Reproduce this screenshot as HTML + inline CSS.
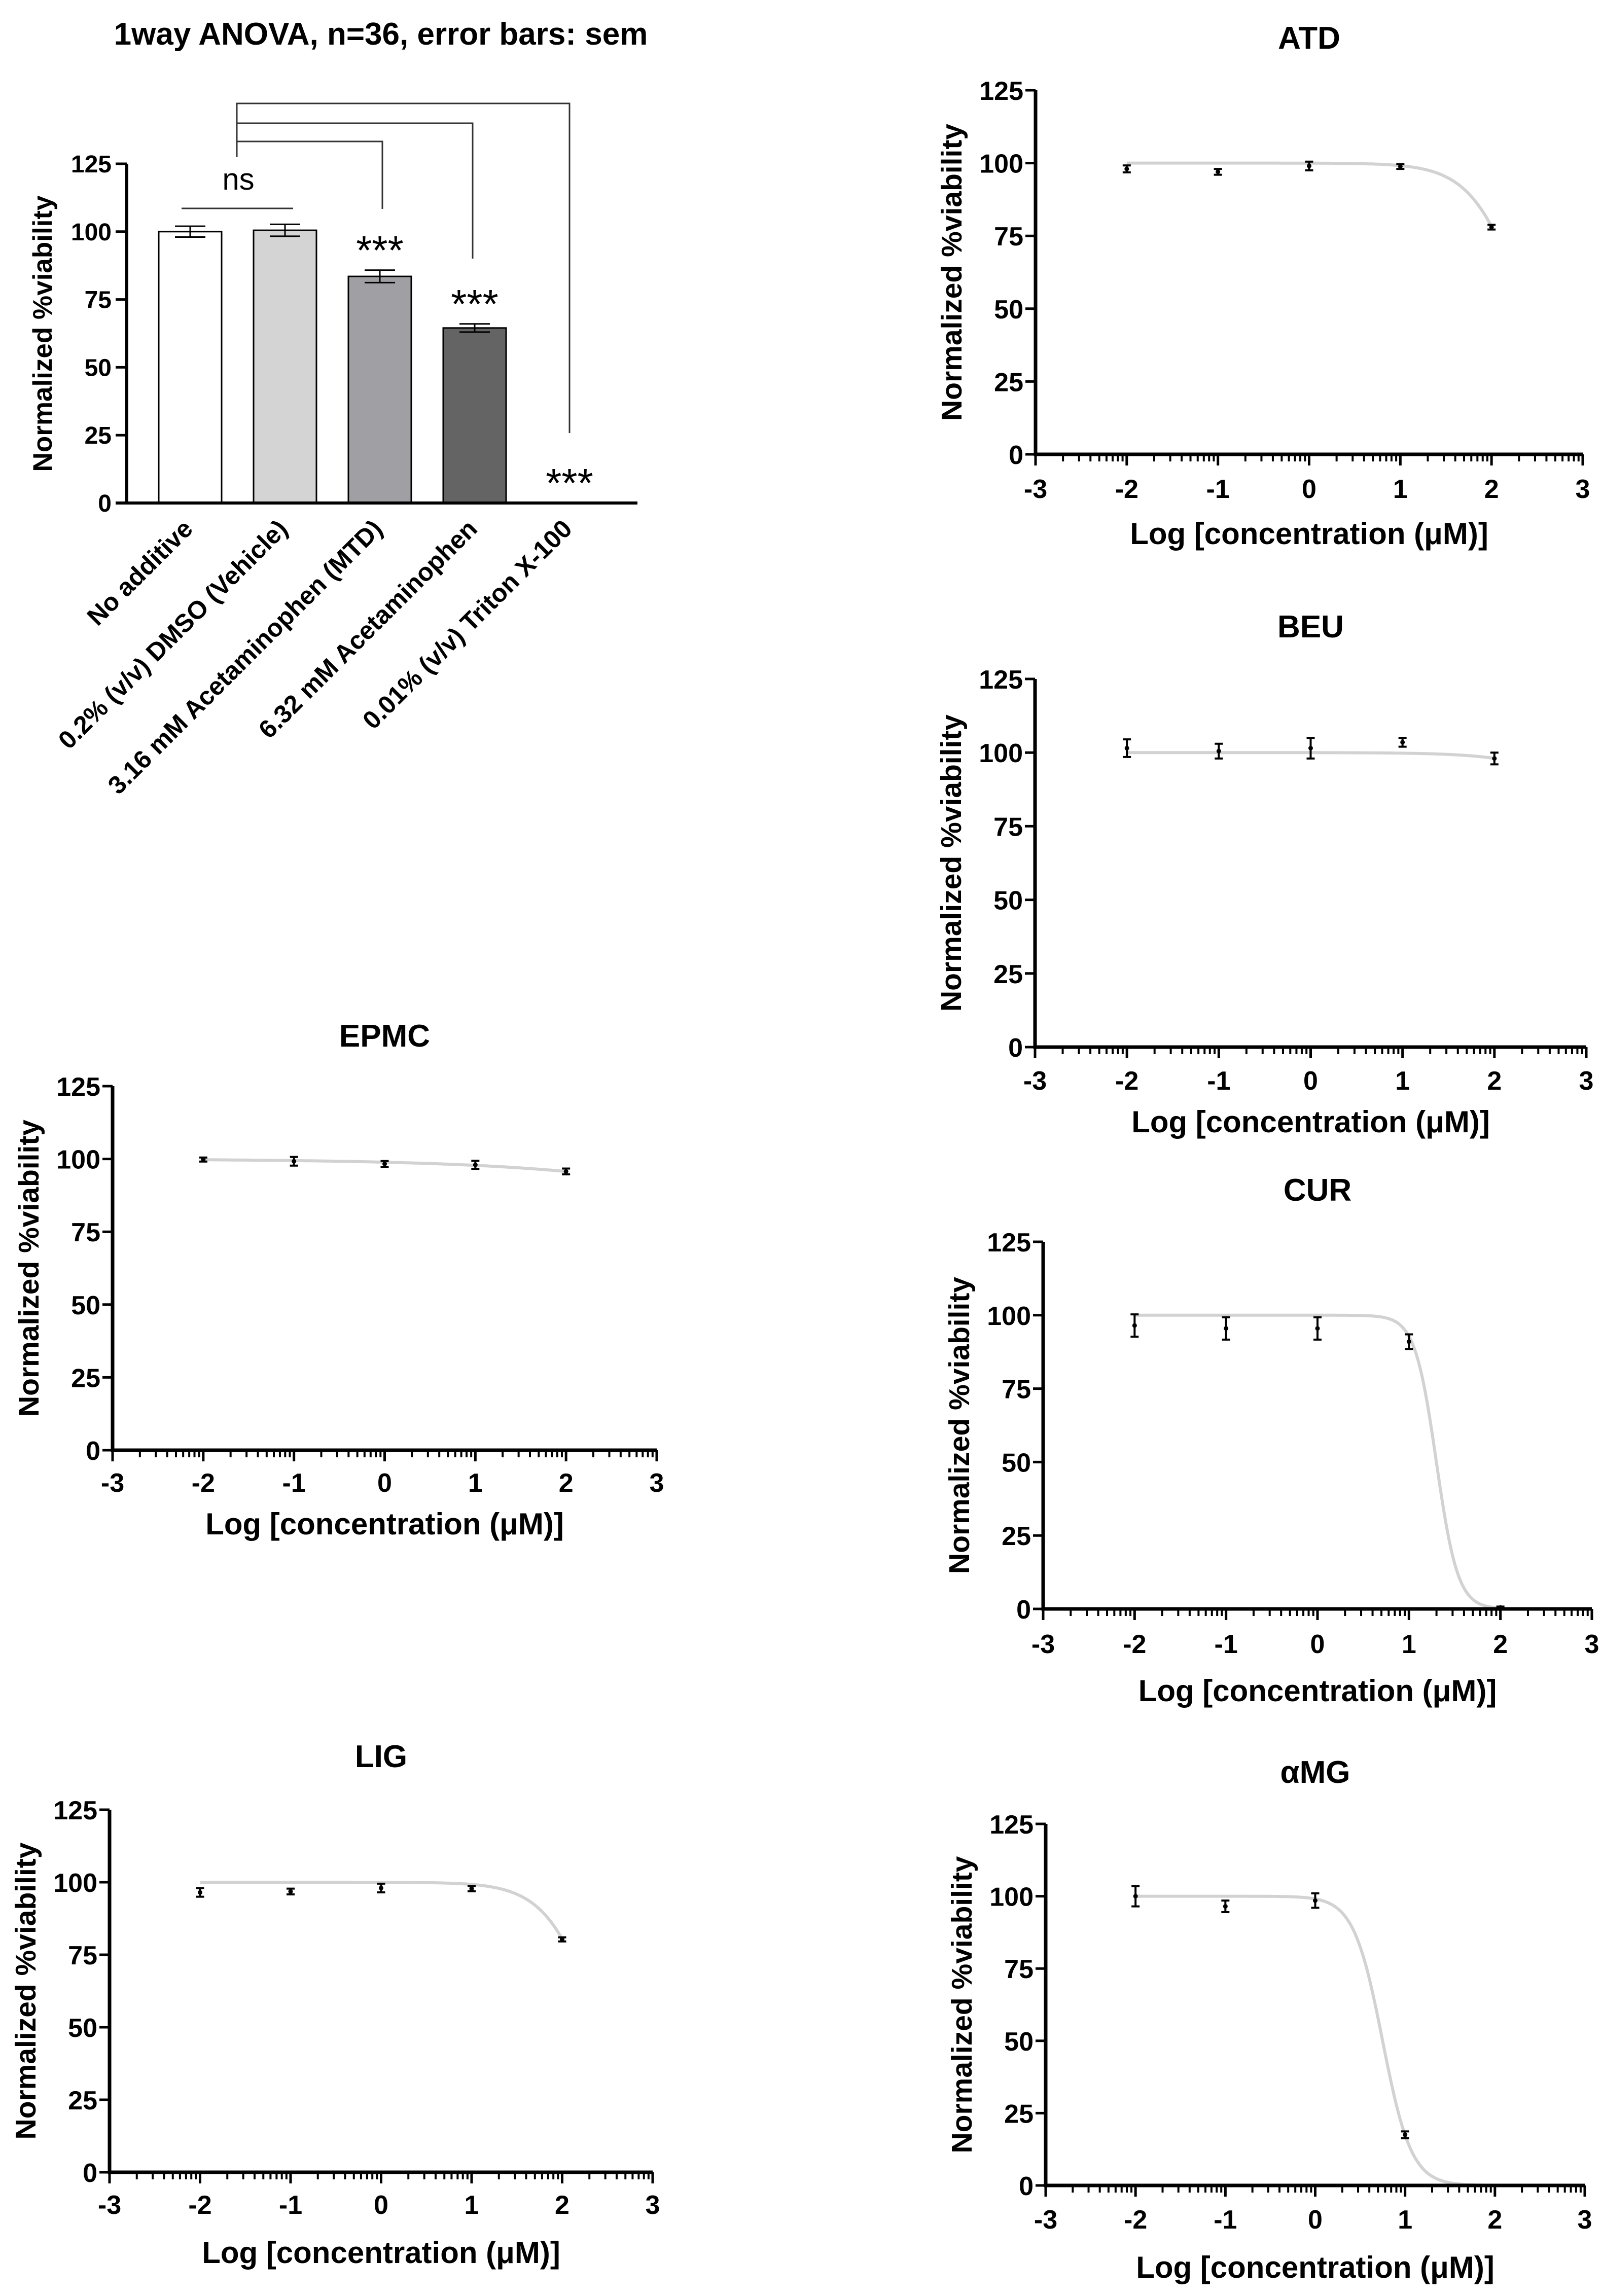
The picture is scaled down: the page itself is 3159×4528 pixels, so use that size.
<!DOCTYPE html>
<html><head><meta charset="utf-8"><style>
html,body{margin:0;padding:0;background:#fff}
svg{display:block}
text{font-family:"Liberation Sans",Arial,sans-serif;fill:#000}
</style></head><body>
<svg id="fig" xmlns="http://www.w3.org/2000/svg" width="3159" height="4528" viewBox="0 0 3159 4528">
<rect width="3159" height="4528" fill="#fff"/>
</svg>
<script>
// ---- bar chart data ----
const barCategories = ["No additive","0.2% (v/v) DMSO (Vehicle)","3.16 mM Acetaminophen (MTD)","6.32 mM Acetaminophen","0.01% (v/v) Triton X-100"];
const barValues = [100, 100.5, 83.5, 64.5, 0];
const barErrors = [2, 2.2, 2.3, 1.5, 0];
const barSig = ["", "", "***", "***", "***"];
const yTicks = [0, 25, 50, 75, 100, 125];
const xTicks = [-3, -2, -1, 0, 1, 2, 3];

// ---- dose-response data ----
const panelNames = ["ATD","BEU","CUR","αMG","EPMC","LIG"];
const doseX = [-2, -1, 0, 1, 2];
const atdY = [98, 97, 99, 98.8, 78];
const atdErr = [1.2, 1.0, 1.5, 0.8, 0.8];
const beuY = [101.5, 100.5, 101.5, 103.5, 98];
const beuErr = [3, 2.5, 3.5, 1.5, 2];
const curY = [96.5, 95.5, 95.5, 91, 0.5];
const curErr = [3.8, 3.8, 3.8, 2.5, 0.3];
const amgY = [100, 96.5, 98.5, 17.5, null];
const amgErr = [3.5, 2.0, 2.5, 1.2, 0];
const epmcY = [99.8, 99.2, 98.3, 98, 95.7];
const epmcErr = [0.7, 1.5, 1.0, 1.4, 1.0];
const ligY = [96.5, 96.8, 98, 97.8, 80.3];
const ligErr = [1.5, 1.0, 1.5, 0.9, 0.7];
// fitted curve parameters: top, logIC50, hill
const fitTop = [100, 100, 100, 100, 100, 100];
const fitLogIC50 = [2.37, 3.7, 1.3, 0.75, 6.49, 2.41];
const fitHill = [1.5, 1, 3.7, 2.7, 0.3, 1.5];

const NS = "http://www.w3.org/2000/svg";
const svg = document.getElementById("fig");
function mk(tag, attrs, parent) {
  const e = document.createElementNS(NS, tag);
  for (const k in attrs) e.setAttribute(k, attrs[k]);
  (parent || svg).appendChild(e);
  return e;
}
function txt(s, attrs, parent) { const t = mk("text", attrs, parent); t.textContent = s; return t; }

// ================= BAR CHART =================
(function(){
  const g = mk("g", {});
  
  
  const ax = 250, y0 = 992, y125 = 323, xEnd = 1257;
  const ys = v => y0 + (y125 - y0) * v / 125;
  const xc = i => 375 + i * 187;
  const bw = 124;
  const colors = ["#ffffff", "#d4d4d4", "#a0a0a4", "#646464", "#ffffff"];
  const t = txt("1way ANOVA, n=36, error bars: sem", {x:751, y:88, "font-size":62, "font-weight":"bold", "text-anchor":"middle"}, g);
  
  
  barValues.forEach((v, i) => {
    if (v > 0) {
      const r = mk("rect", {x:xc(i)-bw/2, y:ys(v), width:bw, height:y0-ys(v), fill:colors[i], stroke:"#000", "stroke-width":3}, g);
      
      
      const e = barErrors[i];
      const eb = mk("path", {d:`M${xc(i)} ${ys(v+e)} V${ys(v-e)} M${xc(i)-30} ${ys(v+e)} H${xc(i)+30} M${xc(i)-30} ${ys(v-e)} H${xc(i)+30}`, stroke:"#000", "stroke-width":3, fill:"none"}, g);
      
      
    }
    if (barSig[i]) {
      const s = txt(barSig[i], {x:xc(i), y:ys(v + barErrors[i]) - 12, "font-size":80, "text-anchor":"middle"}, g);
      
      
    }
    const lb = txt(barCategories[i], {x:0, y:0, "font-size":50, "font-weight":"bold", "text-anchor":"end", transform:`translate(${xc(i)+8},${1046}) rotate(-45)`}, g);
    
    
  });
  const axp = mk("path", {d:`M${ax} ${y125} V${y0} M${ax-22} ${y0} H${xEnd}`, stroke:"#000", "stroke-width":6, fill:"none"}, g);
  
  
  yTicks.forEach(v => {
    mk("line", {x1:ax-22, x2:ax, y1:ys(v), y2:ys(v), stroke:"#000", "stroke-width":5}, g);
    const tl = txt(String(v), {x:ax-30, y:ys(v)+17, "font-size":48, "font-weight":"bold", "text-anchor":"end"}, g);
    
    
  });
  const yl = txt("Normalized %viability", {x:0, y:0, "font-size":53, "font-weight":"bold", "text-anchor":"middle", transform:`translate(102,658) rotate(-90)`}, g);
  
  
  const br = mk("path", {d:`M467 310 V204 H1123 V854 M467 243 H932 V510 M467 279 H754 V412 M358 411 H578`, stroke:"#333", "stroke-width":3, fill:"none"}, g);
  
  
  const ns = txt("ns", {x:470, y:374, "font-size":60, "text-anchor":"middle"}, g);
  
  
})();

// ================= DOSE-RESPONSE PANELS =================
const layouts = [
  {ax:2042, y0:896, y125:178, x3:3121, title:74, tick:963, xl:1051},
  {ax:2041, y0:2065, y125:1339, x3:3128, title:1235, tick:2130, xl:2211},
  {ax:2057, y0:3173, y125:2449, x3:3139, title:2346, tick:3241, xl:3333},
  {ax:2062, y0:4310, y125:3597, x3:3125, title:3494, tick:4376, xl:4470},
  {ax:222, y0:2860, y125:2142, x3:1295, title:2042, tick:2923, xl:3004},
  {ax:216, y0:4284, y125:3569, x3:1287, title:3463, tick:4347, xl:4441}
];
const seriesY = [atdY, beuY, curY, amgY, epmcY, ligY];
const seriesErr = [atdErr, beuErr, curErr, amgErr, epmcErr, ligErr];

panelNames.forEach((name, p) => {
  const L = layouts[p];
  const g = mk("g", {});
  
  
  const xs = v => L.ax + (L.x3 - L.ax) * (v + 3) / 6;
  const ys = v => L.y0 + (L.y125 - L.y0) * v / 125;
  const tt = txt(name, {x:(L.ax+L.x3)/2, y:L.title+22, "font-size":62, "font-weight":"bold", "text-anchor":"middle"}, g);
  
  
  let d = "";
  for (let k = 0; k <= 200; k++) {
    const x = -2 + 4 * k / 200;
    const y = fitTop[p] / (1 + Math.pow(10, fitHill[p] * (x - fitLogIC50[p])));
    d += (k ? "L" : "M") + xs(x).toFixed(1) + " " + ys(y).toFixed(1);
  }
  const cv = mk("path", {d:d, stroke:"#d2d2d2", "stroke-width":6, fill:"none"}, g);
  
  
  const axp = mk("path", {d:`M${L.ax} ${L.y125} V${L.y0} H${L.x3}`, stroke:"#000", "stroke-width":7, fill:"none"}, g);
  
  
  yTicks.forEach(v => {
    mk("line", {x1:L.ax-20, x2:L.ax, y1:ys(v), y2:ys(v), stroke:"#000", "stroke-width":5}, g);
    const tl = txt(String(v), {x:L.ax-24, y:ys(v)+19, "font-size":52, "font-weight":"bold", "text-anchor":"end"}, g);
    
    
  });
  xTicks.forEach((v, i) => {
    mk("line", {x1:xs(v), x2:xs(v), y1:L.y0, y2:L.y0+22, stroke:"#000", "stroke-width":5}, g);
    const tl = txt(String(v), {x:xs(v), y:L.tick+19, "font-size":52, "font-weight":"bold", "text-anchor":"middle"}, g);
    
    
    if (i < xTicks.length - 1) {
      for (let m = 2; m <= 9; m++) {
        const xm = xs(v + Math.log10(m));
        mk("line", {x1:xm, x2:xm, y1:L.y0, y2:L.y0+14, stroke:"#000", "stroke-width":4}, g);
      }
    }
  });
  const yl = txt("Normalized %viability", {x:0, y:0, "font-size":57, "font-weight":"bold", "text-anchor":"middle", transform:`translate(${L.ax-146},${(L.y0+L.y125)/2}) rotate(-90)`}, g);
  
  
  const xl = txt("Log [concentration (μM)]", {x:(L.ax+L.x3)/2, y:L.xl+22, "font-size":60, "font-weight":"bold", "text-anchor":"middle"}, g);
  
  
  doseX.forEach((x, i) => {
    const y = seriesY[p][i];
    if (y === null) return;
    const e = seriesErr[p][i];
    const X = xs(x);
    const pt = mk("path", {d:`M${X} ${ys(y+e)} V${ys(y-e)} M${X-8} ${ys(y+e)} H${X+8} M${X-8} ${ys(y-e)} H${X+8}`, stroke:"#000", "stroke-width":4, fill:"none"}, g);
    
    
    const c = mk("circle", {cx:X, cy:ys(y), r:4.5, fill:"#000"}, g);
    
    
  });
});
</script>
</body></html>
